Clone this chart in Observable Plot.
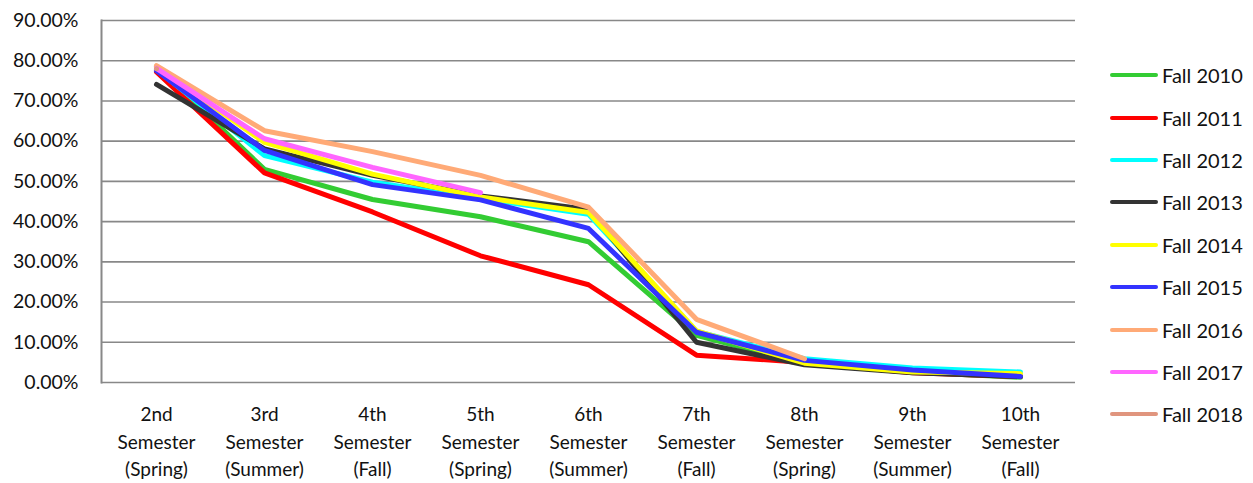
<!DOCTYPE html>
<html>
<head>
<meta charset="utf-8">
<script src="https://cdn.jsdelivr.net/npm/d3@7"></script>
<script src="https://cdn.jsdelivr.net/npm/@observablehq/plot@0.6"></script>
<style>
  html, body { margin: 0; padding: 0; background: #fff; }
  #wrap { position: relative; width: 1253px; height: 483px; font-family: Lato, "Open Sans", sans-serif; }
  #legend { position: absolute; left: 1110px; top: 54px; }
  .li { display: flex; align-items: center; height: 42.4px; font-size: 20px; color: #111; }
  .sw { width: 48px; height: 4px; border-radius: 2px; margin-right: 4px; }
</style>
</head>
<body>
<div id="wrap"></div>
<script>
const semesters = ["2nd\nSemester\n(Spring)", "3rd\nSemester\n(Summer)", "4th\nSemester\n(Fall)", "5th\nSemester\n(Spring)", "6th\nSemester\n(Summer)", "7th\nSemester\n(Fall)", "8th\nSemester\n(Spring)", "9th\nSemester\n(Summer)", "10th\nSemester\n(Fall)"];
const cohorts = ["Fall 2010", "Fall 2011", "Fall 2012", "Fall 2013", "Fall 2014", "Fall 2015", "Fall 2016", "Fall 2017", "Fall 2018"];
const colors = ["#33CC33", "#FF0000", "#00FFFF", "#333333", "#FFFF00", "#3333FF", "#FFAA77", "#FF66FF", "#E0957E"];
const fall2010 = [0.785, 0.530, 0.455, 0.412, 0.350, 0.117, 0.046, 0.026, 0.013];
const fall2011 = [0.772, 0.521, 0.424, 0.315, 0.243, 0.068, 0.050, 0.024, 0.015];
const fall2012 = [0.778, 0.564, 0.498, 0.458, 0.418, 0.127, 0.059, 0.036, 0.026];
const fall2013 = [0.741, 0.581, 0.515, 0.464, 0.430, 0.100, 0.044, 0.024, 0.015];
const fall2014 = [0.784, 0.597, 0.518, 0.461, 0.423, 0.128, 0.048, 0.026, 0.022];
const fall2015 = [0.775, 0.577, 0.492, 0.454, 0.383, 0.125, 0.055, 0.031, 0.015];
const fall2016 = [0.788, 0.626, 0.574, 0.515, 0.436, 0.157, 0.059];
const fall2017 = [0.781, 0.606, 0.535, 0.472];
const fall2018 = [0.780];
const series = [fall2010, fall2011, fall2012, fall2013, fall2014, fall2015, fall2016, fall2017, fall2018];

const data = series.flatMap((vals, i) => vals.map((v, j) => ({cohort: cohorts[i], sem: semesters[j], value: v})));

const fmt = d3.format(".2%");
const plot = Plot.plot({
  width: 1253,
  height: 483,
  marginLeft: 101,
  marginRight: 178,
  marginTop: 20,
  marginBottom: 101,
  style: {fontFamily: "Lato, 'Open Sans', sans-serif", fontSize: "18px", color: "#111", background: "#fff"},
  x: {type: "point", domain: semesters, padding: 0.5, label: null},
  y: {domain: [0, 0.9], label: null},
  color: {domain: cohorts, range: colors},
  marks: [
    Plot.gridY({ticks: d3.range(0, 0.91, 0.1), stroke: "#888", strokeOpacity: 1, strokeWidth: 1.6}),
    Plot.frame({anchor: "left", stroke: "#888", strokeWidth: 2}),
    Plot.axisY({ticks: d3.range(0, 0.91, 0.1), tickFormat: fmt, tickSize: 0, tickPadding: 23, fontSize: 19.5, label: null}),
    Plot.axisX({tickSize: 0, tickPadding: 19, lineHeight: 1.45, fontSize: 19, label: null}),
    Plot.line(data, {x: "sem", y: "value", z: "cohort", stroke: "cohort", strokeWidth: 5, strokeLinejoin: "round", strokeLinecap: "round"})
  ]
});
const wrap = document.getElementById("wrap");
wrap.appendChild(plot);
const leg = document.createElement("div");
leg.id = "legend";
cohorts.forEach((c, i) => {
  const row = document.createElement("div");
  row.className = "li";
  const sw = document.createElement("div");
  sw.className = "sw";
  sw.style.background = colors[i];
  const t = document.createElement("span");
  t.textContent = c;
  row.appendChild(sw); row.appendChild(t);
  leg.appendChild(row);
});
wrap.appendChild(leg);
</script>
</body>
</html>
